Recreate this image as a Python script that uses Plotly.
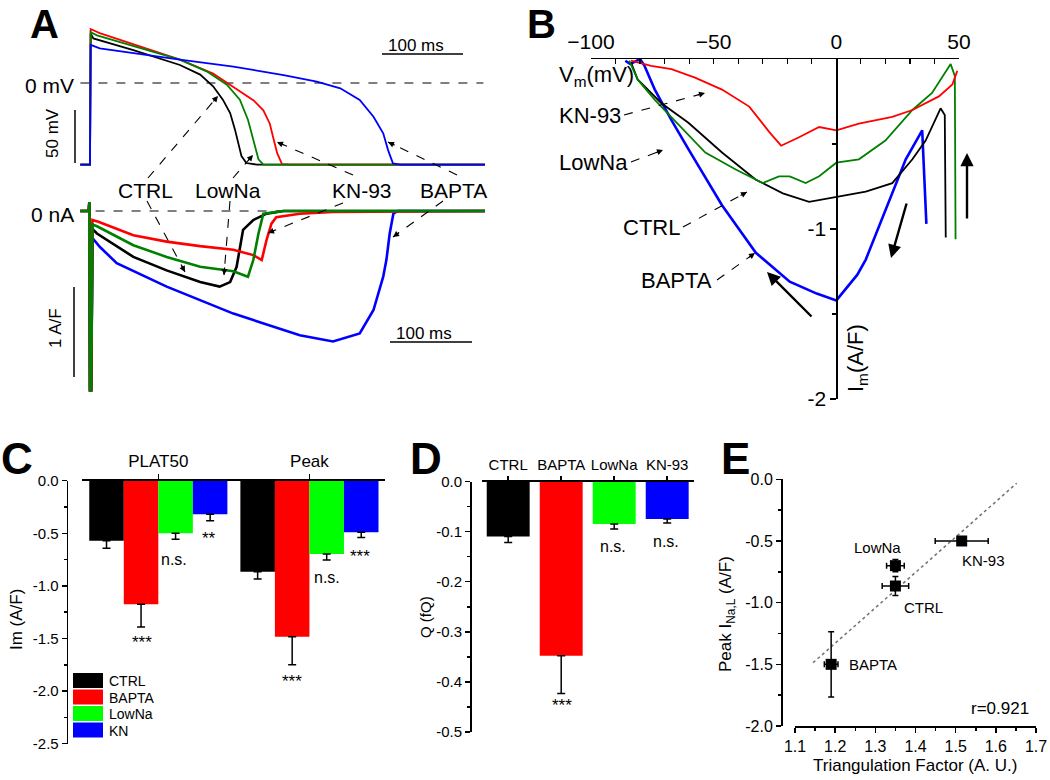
import plotly.graph_objects as go

W, H = 1050, 780
FONT = "Arial, Liberation Sans, sans-serif"
BLACK, RED, DGREEN, BLUE, LGREEN = "#000000", "#ff0000", "#008000", "#0000ff", "#00ff00"

# ---------------- Panel A : action potentials (ms, mV) ----------------
ap_ctrl_t = [-12, -0.5, 0, 0.8, 4.1, 53.5, 111, 136, 152, 164, 173, 179, 183, 187, 193, 206, 300, 488]
ap_ctrl_v = [-77, -77, -77, 46.8, 42, 31, 17, 7.9, -3.1, -15.7, -28.3, -44, -56.6, -69, -75.5, -77, -77, -77]
ap_lowna_t = [-12, -0.5, 0, 0.8, 8.6, 111, 144, 169, 185, 195, 202, 208, 214, 300, 488]
ap_lowna_v = [-77, -77, -77, 48, 45, 22, 11, -1.6, -15.7, -34.6, -53.5, -72, -77, -77, -77]
ap_kn93_t = [-12, -0.5, 0, 0.8, 12, 111, 152, 177, 202, 214, 222, 226, 231, 237, 247, 350, 488]
ap_kn93_v = [-77, -77, -77, 50.9, 47, 22, 8.8, -3.8, -16.4, -25.8, -38.4, -51, -66, -76.5, -77, -77, -77]
ap_bapta_t = [-12, -0.5, 0, 0.8, 12, 111, 177, 239, 280, 309, 333, 350, 362, 368, 374, 383, 450, 488]
ap_bapta_v = [-77, -77, -77, 36, 32.7, 22, 15.4, 7.5, 1.2, -5, -16, -31.8, -47.5, -63.3, -75.8, -77, -77, -77]

# ---------------- Panel A : late currents (ms, A/F) ----------------
cur_ctrl_t = [-12, -1.5, -0.8, 0, 1.5, 3, 8.6, 53.5, 94.6, 136, 160, 173, 181, 189, 201.6, 218, 239, 488]
cur_ctrl_i = [0, 0, 0.1, -1.99, -1.99, -0.2, -0.25, -0.51, -0.66, -0.79, -0.84, -0.79, -0.62, -0.21, -0.1, -0.03, 0, 0]
cur_kn93_t = [-12, -1.5, -0.8, 0, 1.5, 3, 10.3, 53.5, 94.6, 135.8, 177, 201.6, 212, 218, 224, 230, 259, 300, 488]
cur_kn93_i = [0, 0, 0.1, -1.99, -1.99, -0.1, -0.12, -0.27, -0.34, -0.39, -0.43, -0.49, -0.545, -0.32, -0.14, -0.07, -0.03, -0.01, 0]
cur_lowna_t = [-12, -1.5, -0.8, 0, 1.5, 3, 8.6, 53.5, 94.6, 136, 177, 195, 201.6, 208, 214, 239, 488]
cur_lowna_i = [0, 0, 0.1, -1.99, -1.99, -0.15, -0.17, -0.38, -0.51, -0.62, -0.67, -0.73, -0.545, -0.25, -0.03, 0, 0]
cur_bapta_t = [-12, -1.5, -0.8, 0, 1.5, 3, 12.3, 33, 94.7, 177, 259, 300, 333, 350, 362, 366, 370, 374.5, 380, 488]
cur_bapta_i = [0, 0, 0.1, -1.99, -1.99, -0.3, -0.40, -0.58, -0.84, -1.14, -1.38, -1.45, -1.36, -1.10, -0.73, -0.54, -0.25, -0.03, 0, 0]

# ---------------- Panel B : I-V loops (mV, A/F) ----------------
iv_ctrl_v = [44.6, 44.2, 42.5, 36.4, 31, 22.8, 12, 0, -11.1, -21.8, -32.8, -46.6, -60.3, -71.3, -81, -83.7]
iv_ctrl_i = [-1.05, -0.33, -0.29, -0.48, -0.59, -0.73, -0.78, -0.81, -0.84, -0.79, -0.71, -0.55, -0.375, -0.26, -0.12, -0.02]
iv_lowna_v = [48.6, 48.3, 46.6, 39, 31, 20, 9.2, 0, -7, -12.5, -19, -23.4, -30, -41, -53.4, -67.2, -74, -81, -84.4]
iv_lowna_i = [-1.06, -0.1, -0.03, -0.20, -0.30, -0.48, -0.59, -0.61, -0.69, -0.73, -0.69, -0.69, -0.73, -0.65, -0.55, -0.34, -0.24, -0.12, -0.01]
iv_kn93_v = [49.3, 47.3, 41.8, 31, 22.8, 9.2, 0, -7, -15.2, -22.5, -27.3, -35.5, -46.6, -57.6, -67.2, -75.5, -83.7]
iv_kn93_i = [-0.07, -0.15, -0.22, -0.30, -0.34, -0.38, -0.42, -0.40, -0.46, -0.51, -0.43, -0.28, -0.18, -0.11, -0.06, -0.04, -0.01]
iv_bapta_v = [36.7, 35, 28.3, 22.8, 17.4, 12, 8.5, 0, -8, -19, -32.8, -46.6, -60.3, -67.2, -74, -78.2, -80, -84, -86]
iv_bapta_i = [-0.97, -0.42, -0.59, -0.79, -0.98, -1.18, -1.27, -1.42, -1.38, -1.31, -1.14, -0.86, -0.53, -0.36, -0.18, -0.04, 0.0, -0.03, -0.01]
b_xticks = [-100, -50, 0, 50]
b_yticks = [-2, -1]
b_yticktext = ["-2", "-1"]

# ---------------- Panel C : bar chart ----------------
c_groups = ["PLAT50", "Peak"]
c_ctrl, c_ctrl_err = [-0.57, -0.865], [0.073, 0.069]
c_bapta, c_bapta_err = [-1.175, -1.483], [0.215, 0.267]
c_lowna, c_lowna_err = [-0.50, -0.697], [0.057, 0.057]
c_kn, c_kn_err = [-0.32, -0.49], [0.06, 0.05]
c_legend = ["CTRL", "BAPTA", "LowNa", "KN"]
c_sig_plat = ["***", "n.s.", "**"]
c_sig_peak = ["***", "n.s.", "***"]
c_yticks = [0, -0.5, -1.0, -1.5, -2.0, -2.5]
c_yticktext = ["0.0", "-0.5", "-1.0", "-1.5", "-2.0", "-2.5"]

# ---------------- Panel D : charge ----------------
d_cats = ["CTRL", "BAPTA", "LowNa", "KN-93"]
d_vals = [-0.110, -0.348, -0.085, -0.075]
d_errs = [0.012, 0.075, 0.010, 0.008]
d_sig = ["", "***", "n.s.", "n.s."]
d_yticks = [0, -0.1, -0.2, -0.3, -0.4, -0.5]
d_yticktext = ["0.0", "-0.1", "-0.2", "-0.3", "-0.4", "-0.5"]

# ---------------- Panel E : correlation ----------------
e_labels = ["CTRL", "BAPTA", "LowNa", "KN-93"]
e_x = [1.35, 1.19, 1.35, 1.515]
e_y = [-0.865, -1.50, -0.70, -0.50]
e_xerr = [0.033, 0.017, 0.022, 0.066]
e_yerr = [0.078, 0.265, 0.05, 0.025]
e_fit_x = [1.145, 1.652]
e_fit_y = [-1.487, -0.032]
e_r_text = "r=0.921"
e_xticks = [1.1, 1.2, 1.3, 1.4, 1.5, 1.6, 1.7]
e_yticks = [0, -0.5, -1.0, -1.5, -2.0]
e_yticktext = ["0.0", "-0.5", "-1.0", "-1.5", "-2.0"]


def PX(x):
    return x / W


def PY(y):
    return 1 - y / H


fig = go.Figure()

# Panel A traces
for t, v, c in [(ap_ctrl_t, ap_ctrl_v, BLACK), (ap_kn93_t, ap_kn93_v, RED),
                (ap_lowna_t, ap_lowna_v, DGREEN), (ap_bapta_t, ap_bapta_v, BLUE)]:
    fig.add_trace(go.Scatter(x=t, y=v, mode="lines", line=dict(color=c, width=1.8),
                             xaxis="x", yaxis="y", showlegend=False, hoverinfo="skip"))
for t, v, c in [(cur_bapta_t, cur_bapta_i, BLUE), (cur_ctrl_t, cur_ctrl_i, BLACK),
                (cur_kn93_t, cur_kn93_i, RED), (cur_lowna_t, cur_lowna_i, DGREEN)]:
    fig.add_trace(go.Scatter(x=t, y=v, mode="lines", line=dict(color=c, width=2.6),
                             xaxis="x2", yaxis="y2", showlegend=False, hoverinfo="skip"))

# Panel B traces
for v, i, c, w in [(iv_bapta_v, iv_bapta_i, BLUE, 2.6), (iv_ctrl_v, iv_ctrl_i, BLACK, 1.8),
                   (iv_lowna_v, iv_lowna_i, DGREEN, 1.8), (iv_kn93_v, iv_kn93_i, RED, 1.8)]:
    fig.add_trace(go.Scatter(x=v, y=i, mode="lines", line=dict(color=c, width=w),
                             xaxis="x3", yaxis="y3", showlegend=False, hoverinfo="skip", cliponaxis=False))

# Panel C bars
for vals, errs, col, nm in [(c_ctrl, c_ctrl_err, BLACK, c_legend[0]), (c_bapta, c_bapta_err, RED, c_legend[1]),
                            (c_lowna, c_lowna_err, LGREEN, c_legend[2]), (c_kn, c_kn_err, BLUE, c_legend[3])]:
    fig.add_trace(go.Bar(x=c_groups, y=vals, name=nm, marker=dict(color=col, line=dict(width=0)),
                         error_y=dict(type="data", symmetric=False, array=[0] * len(vals), arrayminus=errs,
                                      color="black", thickness=1.5, width=4),
                         xaxis="x4", yaxis="y4", showlegend=False))

# Panel D bars
fig.add_trace(go.Bar(x=d_cats, y=d_vals, width=0.81,
                     marker=dict(color=[BLACK, RED, LGREEN, BLUE], line=dict(width=0)),
                     error_y=dict(type="data", symmetric=False, array=[0] * len(d_vals), arrayminus=d_errs,
                                  color="black", thickness=1.5, width=4),
                     xaxis="x5", yaxis="y5", showlegend=False))

# Panel E
fig.add_trace(go.Scatter(x=e_fit_x, y=e_fit_y, mode="lines", line=dict(color="#777777", width=1.6, dash="dot"),
                         xaxis="x6", yaxis="y6", showlegend=False, hoverinfo="skip"))
fig.add_trace(go.Scatter(x=e_x, y=e_y, mode="markers",
                         marker=dict(symbol="square", size=11, color="black"),
                         error_x=dict(type="data", array=e_xerr, color="black", thickness=1.5, width=3),
                         error_y=dict(type="data", array=e_yerr, color="black", thickness=1.5, width=3),
                         xaxis="x6", yaxis="y6", showlegend=False))

# ---------- axes ----------
hidden = dict(visible=False, showgrid=False, zeroline=False, automargin=False)
tA = [(80 - 90) / 0.81, (485 - 90) / 0.81]
vA = [(83 - 170) / 1.06, (83 - 20) / 1.06]
iA = [(211 - 395) / 90, (211 - 195) / 90]

tickfont_small = dict(family=FONT, size=15, color="black")
axcommon = dict(showgrid=False, zeroline=False, showline=True, linecolor="black", linewidth=1.5,
                tickcolor="black", tickwidth=1.5, automargin=False)

fig.update_layout(
    template="none",
    width=W, height=H, margin=dict(l=0, r=0, t=0, b=0, pad=0, autoexpand=False),
    paper_bgcolor="white", plot_bgcolor="white",
    font=dict(family=FONT, color="black"),
    barmode="group", bargap=0.086, bargroupgap=0,
    showlegend=False,
    xaxis=dict(domain=[PX(80), PX(485)], range=tA, anchor="y", **hidden),
    yaxis=dict(domain=[PY(170), PY(20)], range=vA, anchor="x", **hidden),
    xaxis2=dict(domain=[PX(80), PX(485)], range=tA, anchor="y2", **hidden),
    yaxis2=dict(domain=[PY(395), PY(195)], range=iA, anchor="x2", **hidden),
    xaxis3=dict(domain=[PX(591), PX(959)], range=[-100, 50], anchor="y3", side="top",
                tickvals=b_xticks, ticks="inside", ticklen=5,
                minor=dict(dtick=10, tick0=0, ticks="inside", ticklen=5, tickwidth=1.2, tickcolor="black"),
                tickfont=dict(family=FONT, size=21, color="black"), **axcommon),
    yaxis3=dict(domain=[PY(399), PY(59)], range=[-2, 0], anchor="free", position=PX(836.3),
                tickvals=b_yticks, ticktext=b_yticktext, ticks="outside", ticklen=6,
                minor=dict(tickvals=[-1.5, -0.5], ticks="outside", ticklen=4, tickcolor="black"),
                tickfont=dict(family=FONT, size=21, color="black"), **axcommon),
    xaxis4=dict(domain=[PX(81.7), PX(385)], range=[-0.507, 1.5], anchor="y4", side="top", type="category",
                ticks="outside", ticklen=5, tickfont=dict(family=FONT, size=17, color="black"), **axcommon),
    yaxis4=dict(domain=[PY(743.7), PY(480.7)], range=[-2.5, 0], anchor="free", position=PX(66.7),
                tickvals=c_yticks, ticktext=c_yticktext, ticks="outside", ticklen=5,
                minor=dict(tickvals=[-0.25, -0.75, -1.25, -1.75, -2.25], ticks="outside", ticklen=3,
                           tickcolor="black"),
                tickfont=tickfont_small, **axcommon),
    xaxis5=dict(domain=[PX(481.7), PX(693.7)], range=[-0.5, 3.5], anchor="y5", side="top", type="category",
                ticks="outside", ticklen=4, tickfont=dict(family=FONT, size=15, color="black"), **axcommon),
    yaxis5=dict(domain=[PY(732), PY(481.5)], range=[-0.5, 0], anchor="free", position=PX(470),
                tickvals=d_yticks, ticktext=d_yticktext, ticks="outside", ticklen=5,
                minor=dict(tickvals=[-0.05, -0.15, -0.25, -0.35, -0.45], ticks="outside", ticklen=3,
                           tickcolor="black"),
                tickfont=tickfont_small, **axcommon),
    xaxis6=dict(domain=[PX(795), PX(1036)], range=[1.1, 1.7], anchor="y6",
                tickvals=e_xticks, ticks="outside", ticklen=5,
                minor=dict(tickvals=[1.15, 1.25, 1.35, 1.45, 1.55, 1.65], ticks="outside", ticklen=3,
                           tickcolor="black"),
                tickfont=dict(family=FONT, size=16, color="black"), **axcommon),
    yaxis6=dict(domain=[PY(726), PY(479.3)], range=[-2, 0], anchor="free", position=PX(781),
                tickvals=e_yticks, ticktext=e_yticktext, ticks="outside", ticklen=5,
                minor=dict(tickvals=[-0.25, -0.75, -1.25, -1.75], ticks="outside", ticklen=3,
                           tickcolor="black"),
                tickfont=dict(family=FONT, size=16, color="black"), **axcommon),
)

annotations = []
shapes = []


def txt(text, x, y, size, xanchor="center", yanchor="middle", bold=False, angle=0, color="black"):
    annotations.append(dict(text=("<b>%s</b>" % text) if bold else text, x=PX(x), y=PY(y),
                            xref="paper", yref="paper", showarrow=False, xanchor=xanchor,
                            yanchor=yanchor, textangle=angle,
                            font=dict(family=FONT, size=size, color=color)))


def line_px(x0, y0, x1, y1, width=1.5, dash=None, color="black"):
    ln = dict(color=color, width=width)
    if dash:
        ln["dash"] = dash
    shapes.append(dict(type="line", xref="paper", yref="paper", x0=PX(x0), y0=PY(y0), x1=PX(x1), y1=PY(y1),
                       line=ln))


def dashed_arrow(tx, ty, hx, hy):
    line_px(tx, ty, hx, hy, width=1.1, dash="dash")
    L = ((tx - hx) ** 2 + (ty - hy) ** 2) ** 0.5
    annotations.append(dict(text="", x=PX(hx), y=PY(hy), xref="paper", yref="paper", showarrow=True,
                            ax=(tx - hx) / L * 9, ay=(ty - hy) / L * 9, arrowhead=2, arrowsize=1,
                            arrowwidth=1.2, arrowcolor="black", standoff=0))


def solid_arrow(tx, ty, hx, hy):
    annotations.append(dict(text="", x=PX(hx), y=PY(hy), xref="paper", yref="paper", showarrow=True,
                            ax=tx - hx, ay=ty - hy, arrowhead=2, arrowsize=1.1,
                            arrowwidth=2.4, arrowcolor="black", standoff=0))


# panel letters
for L_, x_, y_, s_ in [("A", 44, 24, 40), ("B", 541, 24, 40), ("C", 17, 458, 44), ("D", 426, 458, 44),
                       ("E", 735, 458, 44)]:
    txt(L_, x_, y_, s_, bold=True)

# ---- Panel A decorations
shapes.append(dict(type="line", xref="x", yref="y", x0=tA[0] + 0.5, x1=tA[1] - 2, y0=0, y1=0,
                   line=dict(color="black", width=1.1, dash="dash"), layer="below"))
shapes.append(dict(type="line", xref="x2", yref="y2", x0=tA[0] - 3, x1=tA[1] - 2, y0=0, y1=0,
                   line=dict(color="black", width=1.1, dash="dash"), layer="below"))
txt("0 mV", 76, 85, 21, xanchor="right")
txt("0 nA", 76, 214, 21, xanchor="right")
line_px(75, 110, 75, 163, width=1.5)
txt("50 mV", 52, 133, 17, angle=-90)
line_px(74, 287, 74, 377, width=1.5)
txt("1 A/F", 55, 328, 17, angle=-90)
line_px(382, 54, 463, 54, width=1.5)
txt("100 ms", 416, 45, 17)
line_px(390, 342, 472, 342, width=1.5)
txt("100 ms", 424, 333, 17)
txt("CTRL", 145, 190, 21)
txt("LowNa", 228, 190, 21)
txt("KN-93", 362, 190, 21)
txt("BAPTA", 453, 190, 21)
dashed_arrow(148, 178, 218, 96)
dashed_arrow(147, 201, 185, 272)
dashed_arrow(233, 178, 253, 155)
dashed_arrow(230, 201, 224, 275)
dashed_arrow(353, 175, 277, 142)
dashed_arrow(343, 203, 268, 233)
dashed_arrow(457, 175, 388, 142)
dashed_arrow(443, 201, 393, 237)

# ---- Panel B decorations
txt("V<sub>m</sub>(mV)", 557, 76, 22, xanchor="left")
txt("I<sub>m</sub>(A/F)", 857, 358, 22, angle=-90)
txt("KN-93", 557, 115, 22, xanchor="left")
txt("LowNa", 557, 162, 22, xanchor="left")
txt("CTRL", 621, 227, 22, xanchor="left")
txt("BAPTA", 639, 280, 22, xanchor="left")
dashed_arrow(624, 115, 705, 93)
dashed_arrow(631, 162, 663, 150)
dashed_arrow(683, 227, 747, 192)
dashed_arrow(717, 280, 755, 253)
solid_arrow(967, 220, 967, 153)
solid_arrow(907, 202, 891, 258)
solid_arrow(813, 318, 767, 272)

# ---- Panel C decorations
txt("Im (A/F)", 16, 620, 17, angle=-90)
leg_cols = [BLACK, RED, LGREEN, BLUE]
for k, (nm, col) in enumerate(zip(c_legend, leg_cols)):
    y0 = 673 + k * 16.5
    shapes.append(dict(type="rect", xref="paper", yref="paper", x0=PX(73), x1=PX(103), y0=PY(y0 + 15),
                       y1=PY(y0), fillcolor=col, line=dict(width=0)))
    txt(nm, 107, y0 + 8, 14, xanchor="left")
for s, x_, y_ in zip(c_sig_plat, [142, 174, 209], [642, 559, 538]):
    txt(s, x_, y_, 17 if "*" in s else 16)
for s, x_, y_ in zip(c_sig_peak, [292, 327, 360], [681, 577, 556]):
    txt(s, x_, y_, 17 if "*" in s else 16)

# ---- Panel D decorations
txt("Q (fQ)", 425, 617, 15, angle=-90)
for s, x_, y_ in zip(d_sig, [508, 562, 613, 666], [0, 705, 546, 541]):
    if s:
        txt(s, x_, y_, 17 if "*" in s else 16)

# ---- Panel E decorations
txt("Peak I<sub>Na,L</sub> (A/F)", 727, 614, 17, angle=-90)
txt("Triangulation Factor (A. U.)", 915, 765, 17)
for s, x_, y_ in zip(e_labels, [923, 873, 877, 983], [607, 664, 547, 560]):
    txt(s, x_, y_, 15)
txt(e_r_text, 1000, 708, 17)

fig.update_layout(annotations=annotations, shapes=shapes)
fig.write_html("out.html", config={"displayModeBar": False, "staticPlot": True},
               post_script="document.body.style.margin='0px';document.body.style.overflow='hidden';")
